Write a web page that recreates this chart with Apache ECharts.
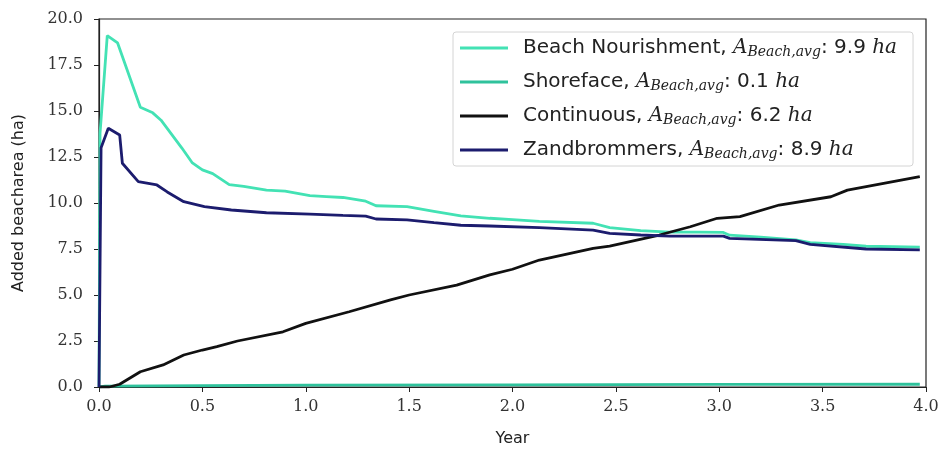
<!DOCTYPE html>
<html>
<head>
<meta charset="utf-8">
<script src="https://cdn.jsdelivr.net/npm/echarts@6/dist/echarts.min.js"></script>
<style>html,body{margin:0;padding:0;background:#fff}#c{width:943px;height:453px}</style>
</head>
<body>
<div id="c"></div>
<script>
// ---- data ----
var xTicks = ['0.0','0.5','1.0','1.5','2.0','2.5','3.0','3.5','4.0'];
var yTicks = ['0.0','2.5','5.0','7.5','10.0','12.5','15.0','17.5','20.0'];

var bnYears = [0, 0.005, 0.04, 0.09, 0.2, 0.26, 0.3, 0.4, 0.45, 0.5, 0.55, 0.63, 0.7, 0.81, 0.9, 1.02, 1.1, 1.18, 1.29, 1.34, 1.49, 1.62, 1.75, 1.89, 2.0, 2.13, 2.39, 2.47, 2.62, 2.76, 2.9, 3.02, 3.05, 3.2, 3.37, 3.44, 3.6, 3.71, 3.97];
var bnArea  = [0, 13.8, 19.1, 18.7, 15.2, 14.9, 14.5, 13.0, 12.2, 11.8, 11.6, 11.0, 10.9, 10.7, 10.65, 10.4, 10.35, 10.3, 10.1, 9.85, 9.8, 9.55, 9.3, 9.17, 9.1, 9.0, 8.9, 8.66, 8.5, 8.42, 8.42, 8.4, 8.25, 8.15, 8.0, 7.85, 7.75, 7.65, 7.6];

var sfYears = [0, 0.03, 0.5, 1.0, 2.0, 3.0, 3.97];
var sfArea  = [0, 0.05, 0.08, 0.1, 0.12, 0.14, 0.15];

var ctYears = [0, 0.05, 0.1, 0.2, 0.31, 0.41, 0.5, 0.57, 0.67, 0.89, 1.0, 1.21, 1.41, 1.5, 1.73, 1.89, 2.0, 2.13, 2.39, 2.47, 2.71, 2.86, 2.99, 3.1, 3.29, 3.54, 3.62, 3.97];
var ctArea  = [0, 0, 0.15, 0.83, 1.2, 1.74, 2.01, 2.19, 2.5, 3.0, 3.46, 4.09, 4.73, 5.0, 5.54, 6.09, 6.4, 6.9, 7.54, 7.66, 8.26, 8.71, 9.17, 9.26, 9.89, 10.34, 10.7, 11.43];

var zbYears = [0, 0.01, 0.045, 0.1, 0.113, 0.19, 0.28, 0.33, 0.41, 0.51, 0.64, 0.81, 1.02, 1.18, 1.29, 1.34, 1.49, 1.62, 1.75, 1.89, 2.13, 2.39, 2.47, 2.62, 2.76, 3.02, 3.05, 3.37, 3.44, 3.71, 3.97];
var zbArea  = [0, 13.0, 14.06, 13.7, 12.16, 11.16, 10.98, 10.6, 10.07, 9.8, 9.62, 9.47, 9.4, 9.33, 9.29, 9.13, 9.08, 8.93, 8.79, 8.75, 8.66, 8.53, 8.35, 8.26, 8.2, 8.2, 8.08, 7.95, 7.75, 7.5, 7.45];

var names = ['Beach Nourishment', 'Shoreface', 'Continuous', 'Zandbrommers'];
var avgs  = ['9.9', '0.1', '6.2', '8.9'];

function pairs(xs, ys){ return xs.map(function(x,i){ return [x, ys[i]]; }); }

var chart = echarts.init(document.getElementById('c'));
var serifFont = '"DejaVu Serif", "Liberation Serif", serif';
var sansFont = '"DejaVu Sans", "Open Sans", sans-serif';

function mkSeries(name, data, color){
  return {
    name: name, type: 'line', data: data, symbol: 'none', showSymbol: false,
    lineStyle: { color: color, width: 2.8 }, itemStyle: { color: color },
    animation: false
  };
}

chart.setOption({
  animation: false,
  grid: { left: 99, right: 17, top: 19, bottom: 66, show: true, borderColor: '#222', borderWidth: 1.2 },
  legend: {
    orient: 'vertical', left: 453, top: 32,
    backgroundColor: '#fff', borderColor: '#d4d4d4', borderWidth: 1, borderRadius: 3,
    padding: [5, 16, 5, 7],
    icon: 'rect',
    itemWidth: 48, itemHeight: 3, itemGap: 12,
    data: names,
    formatter: function(n){
      var i = names.indexOf(n);
      return n + ', {i|A}{sub|Beach,avg}: ' + avgs[i] + ' {i|ha}';
    },
    textStyle: {
      fontFamily: sansFont, fontSize: 20, color: '#222', padding: [0, 0, 0, 10], lineHeight: 22,
      rich: {
        i: { fontFamily: serifFont, fontStyle: 'italic', fontSize: 20, color: '#222', lineHeight: 22 },
        sub: { fontFamily: serifFont, fontStyle: 'italic', fontSize: 14, color: '#222', lineHeight: 22, verticalAlign: 'bottom', padding: [7, 0, 0, 0] }
      }
    }
  },
  xAxis: {
    type: 'value', min: 0, max: 4, interval: 0.5,
    name: 'Year', nameLocation: 'middle', nameGap: 44,
    nameTextStyle: { fontFamily: sansFont, fontSize: 16, color: '#222' },
    axisLine: { show: true, lineStyle: { color: '#222', width: 1.2 } },
    axisTick: { show: true, length: 5, lineStyle: { color: '#222' } },
    axisLabel: { fontFamily: serifFont, fontSize: 16, color: '#333', margin: 12,
      formatter: function(v){ return xTicks[Math.round(v/0.5)]; } },
    splitLine: { show: false }
  },
  yAxis: {
    type: 'value', min: 0, max: 20, interval: 2.5,
    name: 'Added beacharea (ha)', nameLocation: 'middle', nameGap: 72, nameRotate: 90,
    nameTextStyle: { fontFamily: sansFont, fontSize: 16, color: '#222' },
    axisLine: { show: true, lineStyle: { color: '#222', width: 1.2 } },
    axisTick: { show: true, length: 5, lineStyle: { color: '#222' } },
    axisLabel: { fontFamily: serifFont, fontSize: 16, color: '#333', margin: 16,
      formatter: function(v){ return yTicks[Math.round(v/2.5)]; } },
    splitLine: { show: false }
  },
  series: [
    mkSeries(names[0], pairs(bnYears, bnArea), '#43e2b4'),
    mkSeries(names[1], pairs(sfYears, sfArea), '#2fc29c'),
    mkSeries(names[2], pairs(ctYears, ctArea), '#111111'),
    mkSeries(names[3], pairs(zbYears, zbArea), '#1c1c6e')
  ]
});
</script>
</body>
</html>
